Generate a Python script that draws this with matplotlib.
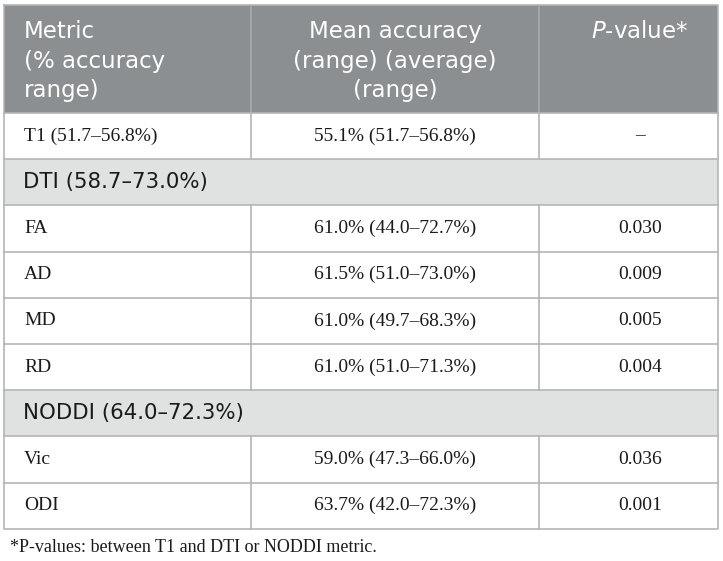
import matplotlib.pyplot as plt
from matplotlib.patches import Rectangle

# table content
header_cols = [["Metric", "(% accuracy", "range)"],
               ["Mean accuracy", "(range) (average)", "(range)"],
               ["$P$-value*"]]
metrics = ["T1 (51.7–56.8%)", "FA", "AD", "MD", "RD", "Vic", "ODI"]
mean_acc = [55.1, 61.0, 61.5, 61.0, 61.0, 59.0, 63.7]
range_lo = [51.7, 44.0, 51.0, 49.7, 51.0, 47.3, 42.0]
range_hi = [56.8, 72.7, 73.0, 68.3, 71.3, 66.0, 72.3]
p_values = [None, 0.030, 0.009, 0.005, 0.004, 0.036, 0.001]
groups = ["DTI (58.7–73.0%)", "NODDI (64.0–72.3%)"]
metric_group = [None, 0, 0, 0, 0, 1, 1]
footnote = "*P-values: between T1 and DTI or NODDI metric."

# layout in pixels
W, H = 723, 561
left, right, top = 4, 718, 5
col_x = [left, 251, 539, right]
header_h = 108
header_baselines = [38, 67.5, 97]
row_h = 46.2
pad = 20

header_bg = "#8b8f91"
group_bg = "#e0e2e2"
line_col = "#b4b6b6"
text_col = "#1a1a1a"
sans = "DejaVu Sans"
serif = "Liberation Serif"

# build row list: ('group', text) or ('data', idx)
rows = []
prev = None
for i, g in enumerate(metric_group):
    if g is not None and g != prev:
        rows.append(("group", groups[g]))
    rows.append(("data", i))
    prev = g

fig = plt.figure(figsize=(W / 100, H / 100), dpi=100)
ax = fig.add_axes([0, 0, 1, 1])
ax.set_xlim(0, W)
ax.set_ylim(H, 0)
ax.axis("off")

# header
ax.add_patch(Rectangle((left, top), right - left, header_h, facecolor=header_bg, edgecolor="none"))
for x in col_x[1:3]:
    ax.plot([x, x], [top, top + header_h], color="#a7abad", lw=1.2)
hdr_x = [(left + pad, "left"), ((col_x[1] + col_x[2]) / 2, "center"), (640, "center")]
for lines, (hx, ha) in zip(header_cols, hdr_x):
    for line, yb in zip(lines, header_baselines):
        ax.text(hx, yb, line, ha=ha, va="baseline", color="white", fontsize=16.5, family=sans)

y = top + header_h
for kind, val in rows:
    yc = y + row_h / 2
    if kind == "group":
        ax.add_patch(Rectangle((left, y), right - left, row_h, facecolor=group_bg, edgecolor="none"))
        ax.text(left + pad - 1, yc, val, ha="left", va="center", fontsize=15.3, family=sans, color=text_col)
    else:
        i = val
        for x in col_x[1:3]:
            ax.plot([x, x], [y, y + row_h], color=line_col, lw=1.2)
        ax.text(left + pad, yc, metrics[i], ha="left", va="center", fontsize=14, family=serif, color=text_col)
        acc = f"{mean_acc[i]:.1f}% ({range_lo[i]:.1f}–{range_hi[i]:.1f}%)"
        ax.text((col_x[1] + col_x[2]) / 2, yc, acc, ha="center", va="center", fontsize=14,
                family=serif, color=text_col)
        p = "–" if p_values[i] is None else f"{p_values[i]:.3f}"
        ax.text(640, yc, p, ha="center", va="center", fontsize=14, family=serif, color=text_col)
    ax.plot([left, right], [y, y], color=line_col, lw=1.2)
    y += row_h

# outer border
ax.plot([left, right, right, left, left], [top, top, y, y, top], color=line_col, lw=1.2)

ax.text(10, 548, footnote, ha="left", va="center", fontsize=13, family=serif, color=text_col)

fig.savefig("out.png", dpi=100)
